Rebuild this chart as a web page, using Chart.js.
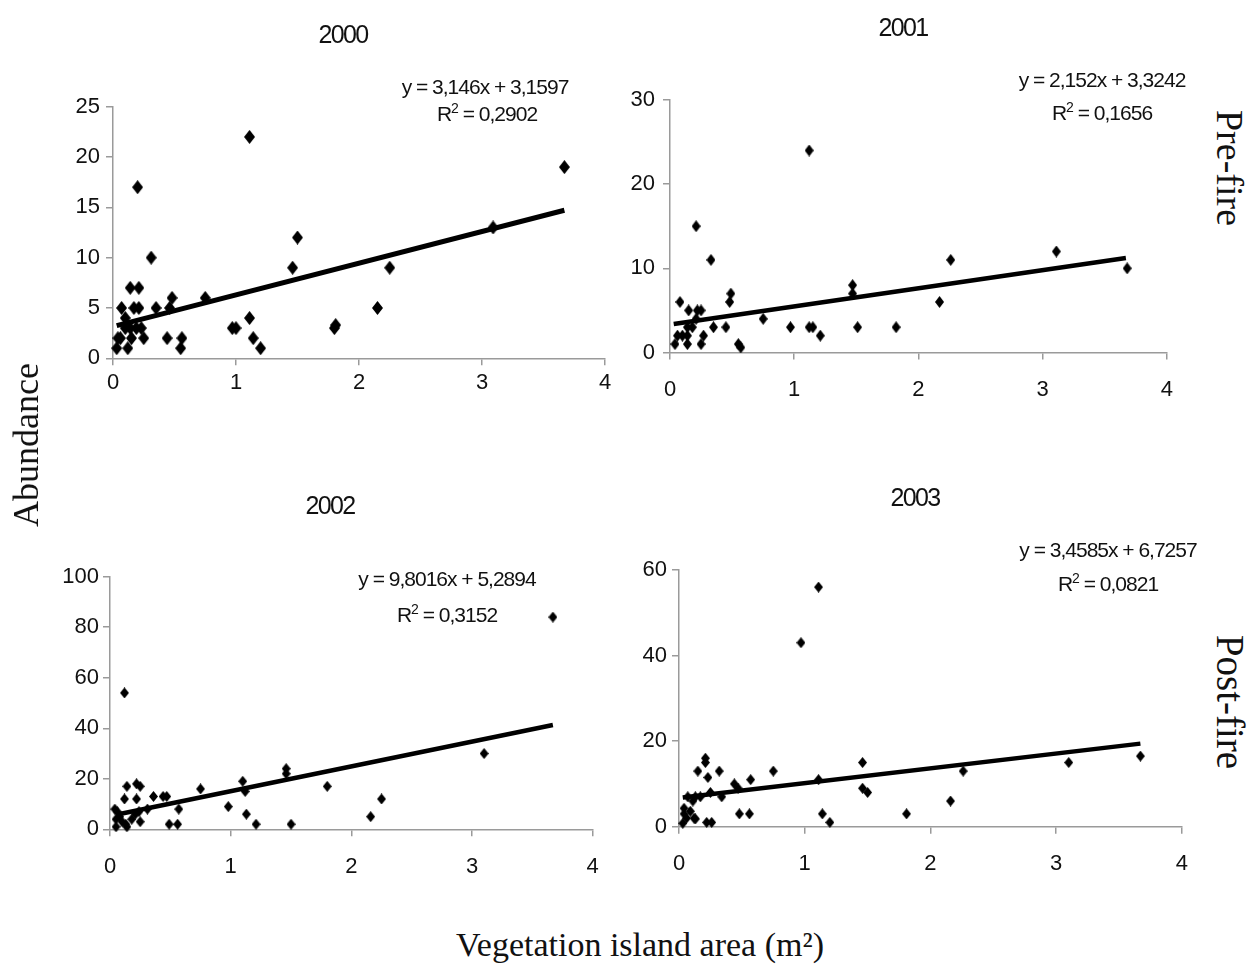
<!DOCTYPE html>
<html><head><meta charset="utf-8">
<script src="https://cdn.jsdelivr.net/npm/chart.js@4/dist/chart.umd.min.js"></script>
<style>
body{margin:0;width:1249px;height:969px;background:#fff;position:relative;overflow:hidden;font-family:"Liberation Sans",Arial,sans-serif;}
canvas{position:absolute;}
.t{position:absolute;transform:translate(-50%,-50%);white-space:nowrap;color:#111;line-height:1;}
.yr{font-size:25px;letter-spacing:-1.6px;}
.eq{font-size:21px;letter-spacing:-1px;}
.eq sup{font-size:14px;vertical-align:8px;line-height:0;}
.serif{font-family:"Liberation Serif","Times New Roman",serif;font-size:35px;color:#111;}
</style></head><body>
<canvas id="c2000" width="625" height="480" style="left:0;top:0"></canvas>
<canvas id="c2001" width="580" height="480" style="left:610px;top:0"></canvas>
<canvas id="c2002" width="620" height="400" style="left:0;top:490px"></canvas>
<canvas id="c2003" width="585" height="400" style="left:620px;top:490px"></canvas>

<div class="t yr" style="left:343px;top:34px">2000</div>
<div class="t yr" style="left:903px;top:27px">2001</div>
<div class="t yr" style="left:330px;top:505px">2002</div>
<div class="t yr" style="left:915px;top:497px">2003</div>

<div class="t eq" style="left:485px;top:86px">y = 3,146x + 3,1597</div>
<div class="t eq" style="left:487px;top:113px">R<sup>2</sup> = 0,2902</div>
<div class="t eq" style="left:1102px;top:79px">y = 2,152x + 3,3242</div>
<div class="t eq" style="left:1102px;top:112px">R<sup>2</sup> = 0,1656</div>
<div class="t eq" style="left:447px;top:578px">y = 9,8016x + 5,2894</div>
<div class="t eq" style="left:447px;top:614px">R<sup>2</sup> = 0,3152</div>
<div class="t eq" style="left:1108px;top:549px">y = 3,4585x + 6,7257</div>
<div class="t eq" style="left:1108px;top:583px">R<sup>2</sup> = 0,0821</div>

<div class="t serif" style="left:26px;top:445px;transform:translate(-50%,-50%) rotate(-90deg);font-size:36px">Abundance</div>
<div class="t serif" style="left:1230px;top:168px;transform:translate(-50%,-50%) rotate(90deg);font-size:38px">Pre-fire</div>
<div class="t serif" style="left:1230px;top:702px;transform:translate(-50%,-50%) rotate(90deg);font-size:39px">Post-fire</div>
<div class="t serif" style="left:640px;top:945px;font-size:34px">Vegetation island area (m²)</div>

<script>
// ---------- data ----------
const xTicks = [0, 1, 2, 3, 4];

const yTicks2000 = [0, 5, 10, 15, 20, 25];
const x2000 = [1.11,0.20,0.31,1.50,1.46,0.14,0.21,0.48,0.75,0.07,0.17,0.21,0.35,0.46,1.11,0.97,1.00,1.80,1.81,1.14,1.20,0.44,0.56,0.55,0.25,0.23,0.04,0.03,0.12,0.10,0.14,0.15,0.10,0.06,0.19,2.25,2.15,3.09,3.67];
const y2000 = [22,17,10,12,9,7,7,6,6,5,5,5,5,5,4,3,3,3,3.3,2,1,2,2,1,2,3,2,1,1,3,3,2,4,2,3,9,5,13,19];
const trendX2000 = [0.03, 3.67];
const trendY2000 = [3.25, 14.71];

const yTicks2001 = [0, 10, 20, 30];
const x2001 = [1.12,0.21,0.33,0.49,0.48,0.08,0.15,0.22,0.25,0.75,1.47,1.47,0.35,0.45,0.97,1.12,1.15,1.21,1.51,1.82,0.55,0.57,0.25,0.27,0.04,0.06,0.14,0.14,0.14,0.21,0.10,0.18,2.26,2.17,3.11,3.68];
const y2001 = [24,15,11,7,6,6,5,5,5,4,8,7,3,3,3,3,3,2,3,3,1,0.6,1,2,1,2,1,3,2,4,2,3,11,6,12,10];
const trendX2001 = [0.03, 3.67];
const trendY2001 = [3.39, 11.22];

const yTicks2002 = [0, 20, 40, 60, 80, 100];
const x2002 = [0.12,1.46,1.46,1.10,1.12,0.75,1.80,0.22,0.25,0.14,0.12,0.22,0.36,0.44,0.47,0.98,0.31,0.57,1.13,1.21,1.50,0.49,0.56,0.04,0.06,0.05,0.05,0.14,0.08,0.24,0.21,0.25,0.13,0.10,0.18,3.67,3.10,2.25,2.16];
const y2002 = [54,24,22,19,15,16,17,18,17,17,12,12,13,13,13,9,8,8,6,2,2,2,2,8,7,4,1,1,5,7,6,3,2,3,4,84,30,12,5];
const trendX2002 = [0.07, 3.67];
const trendY2002 = [5.97, 41.26];

const yTicks2003 = [0, 20, 40, 60];
const x2003 = [1.11,0.97,0.21,0.21,0.15,0.32,0.75,1.46,0.23,0.57,0.44,0.47,1.11,0.25,0.34,1.46,1.50,0.07,0.13,0.17,0.48,0.56,1.14,1.20,0.22,0.26,1.81,0.04,0.04,0.03,0.09,0.12,0.13,0.11,0.06,2.26,2.16,3.10,3.67];
const y2003 = [56,43,16,15,13,13,13,15,11.5,11,10,9,11,8,7,9,8,7,7,7,3,3,3,1,1,1,3,4.3,3,0.8,3.6,2,1.8,6,2,13,6,15,16.5];
const trendX2003 = [0.03, 3.67];
const trendY2003 = [6.83, 19.42];

// ---------- drawing ----------
Chart.defaults.font.family = '"Liberation Sans", Arial, sans-serif';
Chart.defaults.color = '#111';

function diamond(w, h) {
  const c = document.createElement('canvas');
  c.width = w; c.height = h;
  const g = c.getContext('2d');
  g.fillStyle = '#000';
  g.beginPath();
  g.moveTo(w / 2, 0); g.lineTo(w, h / 2); g.lineTo(w / 2, h); g.lineTo(0, h / 2);
  g.closePath(); g.fill();
  return c;
}

function pts(xs, ys) { return xs.map((x, i) => ({x: x, y: ys[i]})); }

function makeChart(id, xs, ys, tx, ty, yTicks, cfg) {
  const mark = diamond(cfg.mw, cfg.mh);
  new Chart(document.getElementById(id), {
    type: 'scatter',
    data: {
      datasets: [
        {data: pts(xs, ys), pointStyle: mark, pointRadius: cfg.mw / 2, backgroundColor: '#000', borderColor: '#000', clip: false, order: 2},
        {type: 'line', data: pts(tx, ty), borderColor: '#000', borderWidth: cfg.lw, pointRadius: 0, fill: false, tension: 0, clip: false, order: 1}
      ]
    },
    options: {
      responsive: false, animation: false, devicePixelRatio: 1,
      layout: {padding: {top: cfg.pt, right: cfg.pr, left: 0, bottom: 0}},
      plugins: {legend: {display: false}, tooltip: {enabled: false}, title: {display: false}},
      scales: {
        x: {
          type: 'linear', min: xTicks[0], max: xTicks[xTicks.length - 1],
          ticks: {stepSize: xTicks[1] - xTicks[0], font: {size: 22}, color: '#111', padding: cfg.xpad},
          grid: {display: true, drawOnChartArea: false, drawTicks: true, tickLength: 7, color: '#9a9a9a', lineWidth: 1.5},
          border: {display: true, color: '#9a9a9a', width: 1.5},
          afterFit: s => { s.height = cfg.hx; }
        },
        y: {
          type: 'linear', min: yTicks[0], max: yTicks[yTicks.length - 1],
          ticks: {stepSize: yTicks[1] - yTicks[0], font: {size: 22}, color: '#111', padding: cfg.ypad},
          grid: {display: true, drawOnChartArea: false, drawTicks: true, tickLength: 7, color: '#9a9a9a', lineWidth: 1.5},
          border: {display: true, color: '#9a9a9a', width: 1.5},
          afterFit: s => { s.width = cfg.wy; }
        }
      }
    }
  });
}

makeChart('c2000', x2000, y2000, trendX2000, trendY2000, yTicks2000,
  {mw: 11, mh: 14, lw: 5, pt: 106.7, pr: 20, wy: 113, hx: 121.7, xpad: 4, ypad: 6});
makeChart('c2001', x2001, y2001, trendX2001, trendY2001, yTicks2001,
  {mw: 9, mh: 12, lw: 4.5, pt: 100, pr: 20, wy: 60, hx: 127.5, xpad: 17, ypad: 8});
makeChart('c2002', x2002, y2002, trendX2002, trendY2002, yTicks2002,
  {mw: 9, mh: 11, lw: 4.5, pt: 86.7, pr: 27.3, wy: 110, hx: 60.7, xpad: 17, ypad: 4});
makeChart('c2003', x2003, y2003, trendX2003, trendY2003, yTicks2003,
  {mw: 9, mh: 11, lw: 4.5, pt: 80, pr: 20, wy: 59, hx: 63.3, xpad: 17, ypad: 5});
</script>
</body></html>
